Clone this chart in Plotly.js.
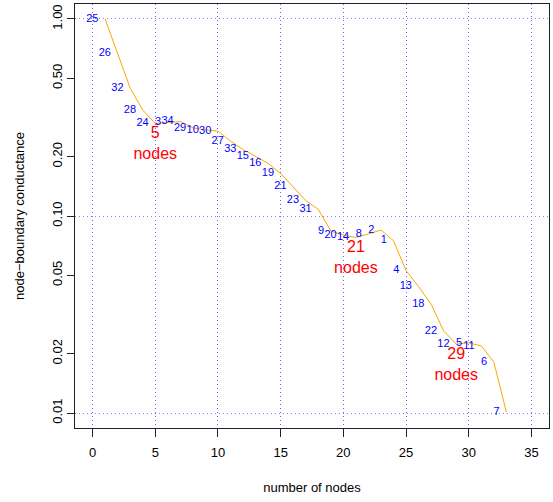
<!DOCTYPE html>
<html>
<head>
<meta charset="utf-8">
<script src="https://cdn.plot.ly/plotly-3.0.1.min.js"></script>
<style>
html,body{margin:0;padding:0;background:#fff;}
#chart{width:553px;height:502px;}
</style>
</head>
<body>
<div id="chart"></div>
<script>
// number of nodes in the sweep set
const setSizes = [1,2,3,4,5,6,7,8,9,10,11,12,13,14,15,16,17,18,19,20,21,22,23,24,25,26,27,28,29,30,31,32,33];
// node added at each step
const nodeIds = ["25","26","32","28","24","3","34","29","10","30","27","33","15","16","19","21","23","31","9","20","14","8","2","1","4","13","18","22","12","5","11","6","7"];
// node-boundary conductance of each sweep set
const conductance = [1.0,0.672,0.446,0.345,0.2947,0.298,0.3018,0.2804,0.2733,0.270,0.2403,0.2176,0.2016,0.185,0.1643,0.1411,0.1199,0.1081,0.0839,0.0801,0.0778,0.0811,0.0849,0.0749,0.0529,0.0438,0.0357,0.0261,0.0224,0.0227,0.0219,0.01815,0.0101];
// local minima highlighted
const minimaSizes = [5,21,29];
const xTicks = [0,5,10,15,20,25,30,35];
const yTicks = [0.01,0.02,0.05,0.1,0.2,0.5,1];
const yTickText = ["0.01","0.02","0.05","0.10","0.20","0.50","1.00"];
const yGrid = [0.01,0.1,1];

const FONT = "Liberation Sans, Arial, Helvetica, sans-serif";
const minimaY = minimaSizes.map(k => conductance[setSizes.indexOf(k)]);
const minimaText = minimaSizes.map(k => k + "<br>nodes");

const traces = [
  {x: setSizes, y: conductance, mode: "lines", type: "scatter",
   line: {color: "#FFA500", width: 1}, hoverinfo: "skip"},
  {x: setSizes, y: conductance, mode: "markers+text", type: "scatter",
   marker: {size: 9, opacity: 0},
   text: nodeIds, textposition: "middle left",
   textfont: {family: FONT, size: 11, color: "#0000FF"}},
  {x: minimaSizes, y: minimaY, mode: "markers+text", type: "scatter",
   marker: {size: 3, opacity: 0},
   text: minimaText, textposition: "bottom center",
   textfont: {family: FONT, size: 16, color: "#FF0000"}},
  {x: [null], y: [null], yaxis: "y2", mode: "lines", type: "scatter", hoverinfo: "skip"}
];

const layout = {
  width: 553, height: 502,
  margin: {l: 75, r: 4, t: 4, b: 74},
  showlegend: false,
  paper_bgcolor: "#fff", plot_bgcolor: "#fff",
  font: {family: FONT, size: 13, color: "#000"},
  xaxis: {
    range: [-1.4, 36.4], tickvals: xTicks, ticktext: xTicks.map(String),
    showline: true, mirror: true, linecolor: "#222", linewidth: 1,
    ticks: "outside", ticklen: 8, tickcolor: "#222", ticklabelstandoff: 4,
    showgrid: true, gridcolor: "rgb(100,100,255)", griddash: "1px,3px", gridwidth: 1,
    zeroline: false,
    tickfont: {family: FONT, size: 13},
    title: {text: "number of nodes", font: {family: FONT, size: 13}, standoff: 24}
  },
  yaxis: {
    type: "log", range: [-2.0761, 0.0761],
    tickvals: yTicks, ticktext: yTickText, tickangle: -90,
    showline: true, mirror: true, linecolor: "#222", linewidth: 1,
    ticks: "outside", ticklen: 7, tickcolor: "#222",
    showgrid: false, zeroline: false,
    tickfont: {family: FONT, size: 13},
    title: {text: "node\u2212boundary conductance", font: {family: FONT, size: 13}, standoff: 22}
  },
  yaxis2: {
    type: "log", range: [-2.0761, 0.0761], overlaying: "y",
    tickvals: yGrid, showticklabels: false, ticks: "",
    showgrid: true, gridcolor: "rgb(130,130,255)", griddash: "1px,3px", gridwidth: 1,
    zeroline: false, showline: false
  }
};

Plotly.newPlot("chart", traces, layout, {displayModeBar: false, staticPlot: true});
</script>
</body>
</html>
